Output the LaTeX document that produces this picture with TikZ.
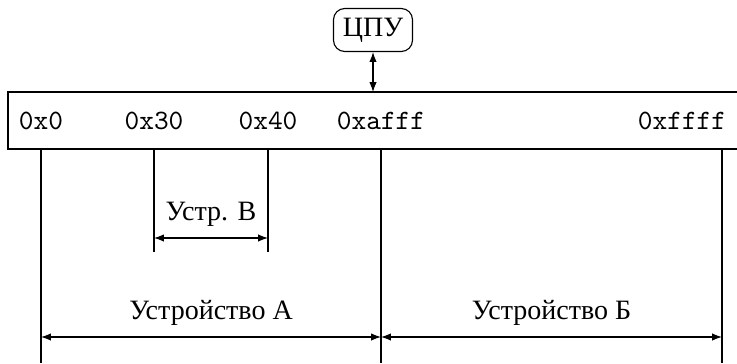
\documentclass[tikz,border=0pt]{standalone}
\usepackage{fontspec}
\setmainfont{Liberation Serif}
\usepackage{tikz}
\usetikzlibrary{arrows.meta,positioning,calc}

\begin{document}
\begin{tikzpicture}[x=0.01255cm,y=-0.01255cm,
    addr/.style={font=\ttfamily,inner sep=1pt},
    span/.style={{Latex[length=3.5pt,width=2.6pt]}-{Latex[length=3.5pt,width=2.6pt]}}]
  \useasboundingbox (0,0) rectangle (737,363);
  % address bar
  \draw (737,92) -- (8,92) -- (8,149) -- (737,149);
  \node[draw,rounded corners=4pt] (cpu) at (373,30) {ЦПУ};
  \coordinate (bus) at (373,92);
  \draw[span] (cpu) -- (bus);
  \foreach \x/\lab/\nm in {41/0x0/a,154/0x30/b,268/0x40/c,381/0xafff/d,682/0xffff/e}
    \node[addr] (\nm) at (\x,121) {\lab};
  % boundaries
  \foreach \nm/\x/\y in {a/41/363,b/154/252,c/268/252,d/381/363,e/722/363}{
    \coordinate (\nm top) at (\x,149);
    \coordinate (\nm bot) at (\x,\y);
    \draw (\nm top) -- (\nm bot);}
  % devices
  \foreach \p/\q/\y/\lab/\nm in {b/c/238/Устр. В/devc,a/d/337/Устройство А/deva,d/e/337/Устройство Б/devb}{
    \coordinate (\nm l) at (\p top |- 0,\y);
    \coordinate (\nm r) at (\q top |- 0,\y);
    \draw[span] (\nm l) -- (\nm r);
    \node[yshift=8.6pt] (\nm) at ($(\nm l)!0.5!(\nm r)$) {\lab};}
\end{tikzpicture}
\end{document}
